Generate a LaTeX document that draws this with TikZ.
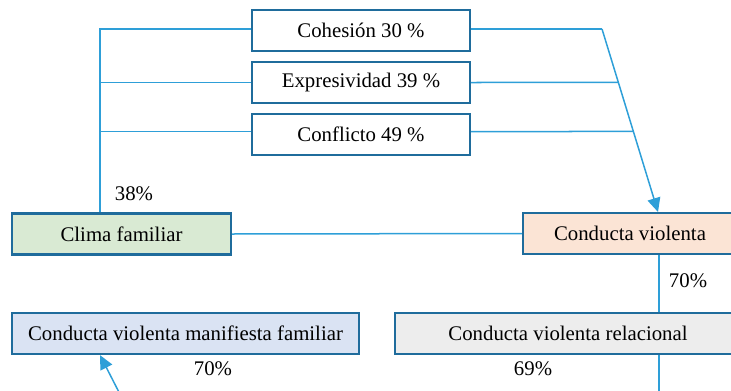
\documentclass[tikz,border=0pt]{standalone}
\usepackage{fontspec}
\setmainfont{Liberation Serif}
\usepackage{xcolor}
\usetikzlibrary{arrows.meta,positioning,calc}
\definecolor{boxline}{HTML}{1F6C9C}
\definecolor{linkblue}{HTML}{2E9FD8}
\definecolor{climafill}{HTML}{D9EAD3}
\definecolor{violfill}{HTML}{FBE4D5}
\definecolor{relfill}{HTML}{EDEDED}
\definecolor{manfill}{HTML}{DAE3F3}

\begin{document}
\begin{tikzpicture}[
    x=0.5pt, y=-0.5pt,
    every node/.style={font=\fontsize{10.4}{12}\selectfont},
    box/.style={rectangle, draw=boxline, line width=1.1pt, minimum height=20.5pt, inner sep=0pt},
    dimbox/.style={box, fill=white, minimum width=109pt},
    varbox/.style={box, minimum width=109.5pt},
    link/.style={draw=linkblue, line width=0.75pt},
    arrow/.style={link, -{Triangle[length=7pt,width=6.5pt]}},
    pct/.style={inner sep=0pt},
]
\useasboundingbox (0,0) rectangle (731,390);

% Dimensions of family climate
\node[dimbox] (coh) at (361,30.5) {Cohesión 30 \%};
\node[dimbox] (exp) at (361,82.5) {Expresividad 39 \%};
\node[dimbox] (con) at (361,134.5) {Conflicto 49 \%};

% Main variables
\node[varbox, fill=climafill] (clima) at (121.5,234) {Clima familiar};
\node[varbox, fill=violfill, minimum width=107pt] (cviol) at (630,233.5) {Conducta violenta};
\node[box, fill=relfill, minimum width=173pt] (crel) at (568,333.5) {Conducta violenta relacional};
\node[box, fill=manfill, minimum width=173.5pt] (cman) at (185.5,333.5) {Conducta violenta manifiesta familiar};

% Helper points
\coordinate (kink) at (100,29);
\coordinate (rtop) at (602,29);
\coordinate (cvtop) at (658,212);
\coordinate (relout) at (659,400);
\coordinate (manin) at (124,402);

% Left bracket
\draw[link] ([yshift=0.75pt]coh.west) -- (kink) -- (kink |- clima.north);
\draw[link] (exp.west) -- (exp.west -| kink);
\draw[link] ([yshift=1.5pt]con.west) -- ([yshift=1.5pt]con.west -| kink);

% Right converging lines
\draw[link] ([yshift=0.75pt]coh.east) -- (rtop);
\draw[arrow] (rtop) -- (cvtop);
\draw[link] (exp.east) -- (intersection of exp.east--exp.west and rtop--cvtop);
\draw[link] ([yshift=1.5pt]con.east) -- (intersection of {[yshift=1.5pt]con.east}--{[yshift=1.5pt]con.west} and rtop--cvtop);

% Other connectors
\draw[link] (clima.east) -- (cviol.west);
\draw[link] (cviol.south -| relout) -- (crel.north -| relout);
\draw[link] (crel.south -| relout) -- (relout);
\draw[arrow] (manin) -- (cman.south -| kink);

% Percentages
\node[pct] (p38) at (134,194) {38\%};
\node[pct] (p70a) at (688,281) {70\%};
\node[pct] (p69) at (533,369) {69\%};
\node[pct] (p70b) at (213,369) {70\%};

\end{tikzpicture}
\end{document}
